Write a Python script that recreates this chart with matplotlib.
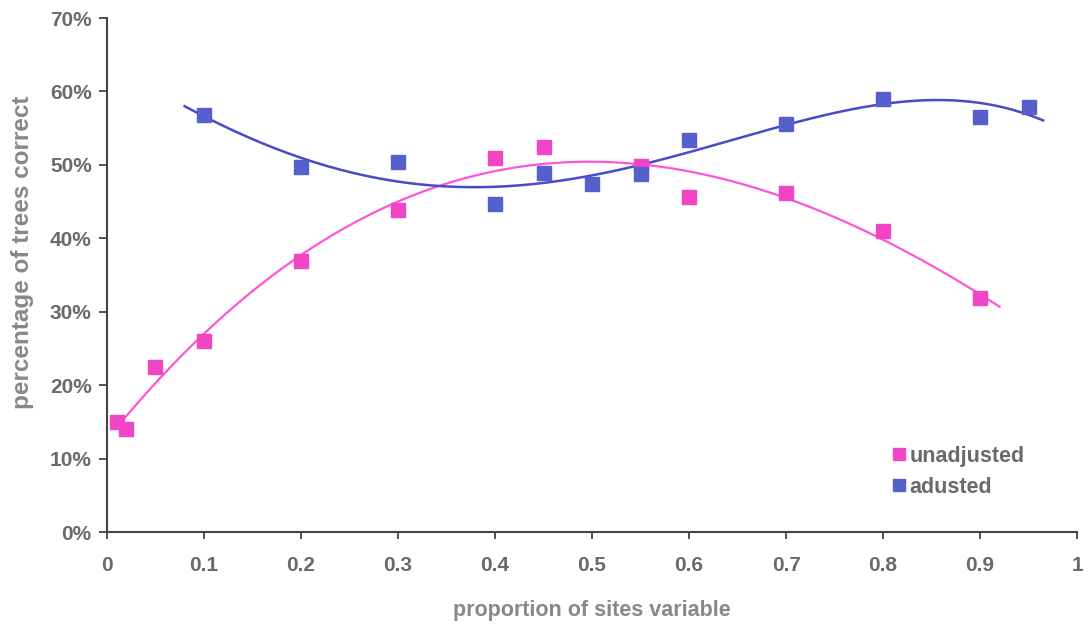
import matplotlib
matplotlib.use('Agg')
import matplotlib.pyplot as plt
import numpy as np
from matplotlib.ticker import FuncFormatter

plt.rcParams['font.family'] = ['Liberation Sans', 'DejaVu Sans']

# unadjusted series
x_unadj = [0.01, 0.02, 0.05, 0.1, 0.2, 0.3, 0.4, 0.45, 0.55, 0.6, 0.7, 0.8, 0.9]
y_unadj = [15.0, 14.0, 22.5, 26.0, 36.9, 43.9, 50.9, 52.4, 49.8, 45.6, 46.2, 41.0, 31.9]

# adjusted series
x_adj = [0.1, 0.2, 0.3, 0.4, 0.45, 0.5, 0.55, 0.6, 0.7, 0.8, 0.9, 0.95]
y_adj = [56.8, 49.7, 50.4, 44.7, 48.9, 47.4, 48.8, 53.4, 55.6, 59.0, 56.5, 57.9]

pink = '#f245c6'
blue = '#5560cc'
grey = '#6a6a6a'

fig = plt.figure(figsize=(10.88, 6.25), dpi=100)
ax = fig.add_axes([0.0983, 0.1488, 0.8917, 0.8224])

# polynomial trendlines (as in a spreadsheet)
cu = np.polyfit(x_unadj, y_unadj, 3)
xu = np.linspace(0.01, 0.92, 200)
ax.plot(xu, np.polyval(cu, xu), color='#ff55d4', lw=1.6, zorder=2)
ca = np.polyfit(x_adj, y_adj, 4)
xa = np.linspace(0.08, 0.965, 200)
ax.plot(xa, np.polyval(ca, xa), color='#4a4ac8', lw=1.8, zorder=2)

ax.plot(x_unadj, y_unadj, 's', color=pink, ms=10, mec=pink, label='unadjusted', zorder=3)
ax.plot(x_adj, y_adj, 's', color=blue, ms=10, mec=blue, label='adusted', zorder=3)

ax.set_xlim(0, 1)
ax.set_ylim(0, 70)
ax.set_xticks(np.arange(0, 1.01, 0.1))
ax.set_xticklabels(['0', '0.1', '0.2', '0.3', '0.4', '0.5', '0.6', '0.7', '0.8', '0.9', '1'])
ax.set_yticks(np.arange(0, 71, 10))
ax.yaxis.set_major_formatter(FuncFormatter(lambda v, p: '{:d}%'.format(int(v))))

for s in ['top', 'right']:
    ax.spines[s].set_visible(False)
for s in ['left', 'bottom']:
    ax.spines[s].set_color('#444444')
    ax.spines[s].set_linewidth(1.5)
ax.tick_params(colors='#444444', width=1.3, length=6, labelsize=15, labelcolor=grey)
ax.tick_params(axis='x', length=5, pad=12)
ax.tick_params(axis='y', pad=5)
for lab in ax.get_xticklabels() + ax.get_yticklabels():
    lab.set_fontweight('bold')

ax.set_xlabel('proportion of sites variable', fontsize=15.5, color='#888888', fontweight='bold', labelpad=18)
ax.set_ylabel('percentage of trees correct', fontsize=17.5, color='#888888', fontweight='bold')
ax.yaxis.set_label_coords(-0.075, 0.545)

leg = ax.legend(loc='upper left', bbox_to_anchor=(0.785, 0.205), frameon=False, handletextpad=0.0,
                handlelength=1.0, labelspacing=0.45, markerscale=0.9,
                prop={'size': 15.5, 'weight': 'bold'})
for t in leg.get_texts():
    t.set_color(grey)

fig.savefig('out.png', dpi=100)
